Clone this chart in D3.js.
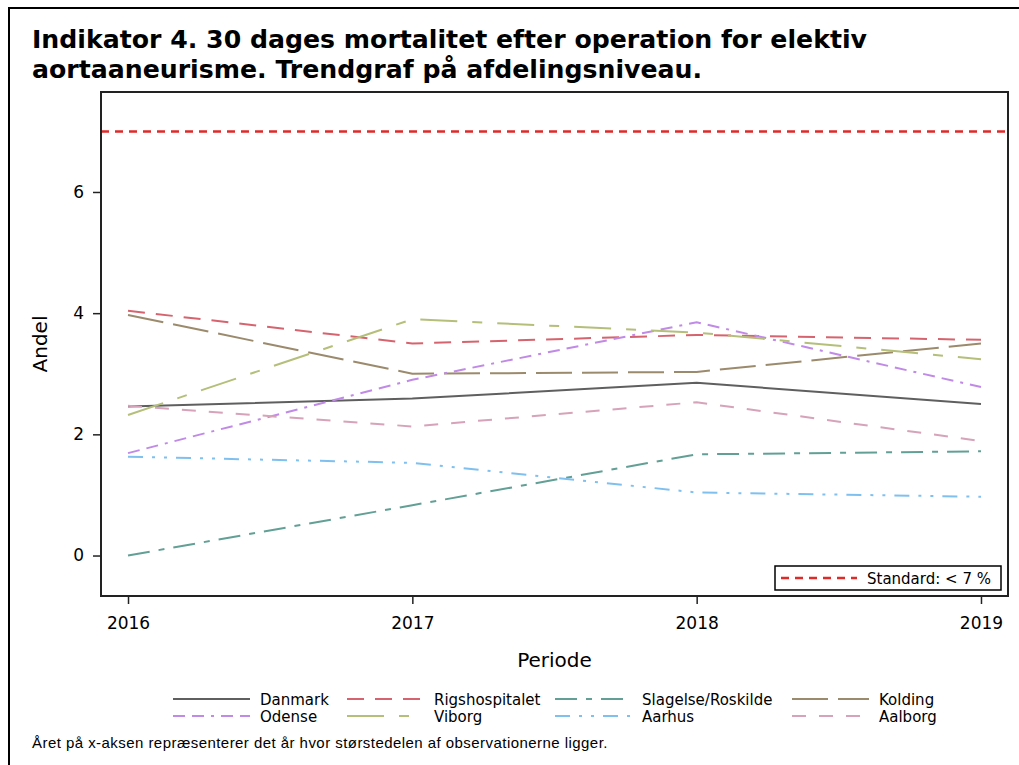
<!DOCTYPE html>
<html>
<head>
<meta charset="utf-8">
<script src="https://cdn.jsdelivr.net/npm/d3@7"></script>
<style>
  body { margin: 0; background: #fff; }
  svg { display: block; }
</style>
</head>
<body>
<div id="chart"></div>
<script>
// data
var years = [2016, 2017, 2018, 2019];
var seriesNames = ["Danmark", "Rigshospitalet", "Slagelse/Roskilde", "Kolding",
                   "Odense", "Viborg", "Aarhus", "Aalborg"];
var danmark        = [2.46, 2.59, 2.85, 2.50];
var rigshospitalet = [4.04, 3.50, 3.64, 3.56];
var slagelse       = [0.00, 0.83, 1.67, 1.72];
var kolding        = [3.97, 3.00, 3.03, 3.50];
var odense         = [1.69, 2.90, 3.85, 2.78];
var viborg         = [2.32, 3.90, 3.68, 3.24];
var aarhus         = [1.63, 1.53, 1.04, 0.97];
var aalborg        = [2.47, 2.13, 2.53, 1.89];
var standardValue = 7;
var yTicks = [0, 2, 4, 6];

var allValues = [danmark, rigshospitalet, slagelse, kolding, odense, viborg, aarhus, aalborg];

var colors = ["#5f5f5f", "#d6646e", "#62a096", "#9c8a6c", "#c08ae6", "#b5bf7a", "#80c0ee", "#d6a3b8"];
var dashes = ["none", "17 11", "22 9 6 9", "36 10", "12 7 12 7 3 7", "37 15 10 15", "15 9 3 9 3 9", "14 13"];

var W = 1019, H = 765;
var margin = { left: 101, top: 92, right: 11, bottom: 169 };
var width = W - margin.left - margin.right;
var height = H - margin.top - margin.bottom;
var fontFamily = "'DejaVu Sans', sans-serif";

var svg = d3.select("#chart").append("svg")
  .attr("width", W)
  .attr("height", H);

// outer border (only top/left visible in the reference)
svg.append("rect")
  .attr("x", 9).attr("y", 8)
  .attr("width", W + 20).attr("height", H + 20)
  .attr("fill", "none").attr("stroke", "#000").attr("stroke-width", 2);

// title
var title = svg.append("text")
  .attr("font-family", fontFamily)
  .attr("font-weight", "bold")
  .attr("font-size", "25.2px")
  .attr("fill", "#000");
title.append("tspan").attr("x", 32).attr("y", 48)
  .text("Indikator 4. 30 dages mortalitet efter operation for elektiv");
title.append("tspan").attr("x", 32).attr("y", 78)
  .text("aortaaneurisme. Trendgraf på afdelingsniveau.");

var g = svg.append("g")
  .attr("transform", "translate(" + margin.left + "," + margin.top + ")");

var xPad = 0.095;
var x = d3.scaleLinear()
  .domain([years[0] - xPad, years[years.length - 1] + xPad])
  .range([0, width]);

var y = d3.scaleLinear()
  .domain([-0.668, 7.65])
  .range([height, 0]);

// axes
var xAxis = g.append("g")
  .attr("transform", "translate(0," + height + ")")
  .call(d3.axisBottom(x).tickValues(years).tickFormat(d3.format("d")).tickSize(8).tickPadding(13));
var yAxis = g.append("g")
  .call(d3.axisLeft(y).tickValues(yTicks).tickSize(8).tickPadding(9));

[xAxis, yAxis].forEach(function (a) {
  a.select(".domain").remove();
  a.selectAll(".tick line").attr("stroke", "#222").attr("stroke-width", 1.5);
  a.selectAll(".tick text")
    .attr("font-family", fontFamily)
    .attr("font-size", "17px")
    .attr("fill", "#000");
});

// standard line
g.append("line")
  .attr("x1", 0).attr("x2", width)
  .attr("y1", y(standardValue)).attr("y2", y(standardValue))
  .attr("stroke", "#e02a2a")
  .attr("stroke-width", 2.5)
  .attr("stroke-dasharray", "8 6");

// series lines
var line = d3.line()
  .x(function (d, i) { return x(years[i]); })
  .y(function (d) { return y(d); });

allValues.forEach(function (vals, i) {
  g.append("path")
    .datum(vals)
    .attr("d", line)
    .attr("fill", "none")
    .attr("stroke", colors[i])
    .attr("stroke-width", 2)
    .attr("stroke-dasharray", dashes[i]);
});

// plot frame
g.append("rect")
  .attr("x", 0).attr("y", 0)
  .attr("width", width).attr("height", height)
  .attr("fill", "none")
  .attr("stroke", "#222")
  .attr("stroke-width", 2);

// inset legend for standard
var ins = g.append("g")
  .attr("transform", "translate(" + (width - 233) + "," + (height - 30) + ")");
ins.append("rect")
  .attr("width", 226).attr("height", 24)
  .attr("fill", "#fff").attr("stroke", "#000").attr("stroke-width", 1.5);
ins.append("line")
  .attr("x1", 6).attr("x2", 82).attr("y1", 12).attr("y2", 12)
  .attr("stroke", "#e02a2a").attr("stroke-width", 2.5).attr("stroke-dasharray", "8 6");
ins.append("text")
  .attr("x", 92).attr("y", 17.5)
  .attr("font-family", fontFamily).attr("font-size", "15px")
  .text("Standard: < " + standardValue + " %");

// axis labels
svg.append("text")
  .attr("x", margin.left + width / 2).attr("y", 667)
  .attr("text-anchor", "middle")
  .attr("font-family", fontFamily).attr("font-size", "20px")
  .text("Periode");
svg.append("text")
  .attr("transform", "translate(47," + (margin.top + height / 2) + ") rotate(-90)")
  .attr("text-anchor", "middle")
  .attr("font-family", fontFamily).attr("font-size", "20px")
  .text("Andel");

// legend
var legendCols = [173, 347, 555, 792];
var legendRows = [699, 716];
var legendLine = 77;
seriesNames.forEach(function (name, i) {
  var col = i % 4, row = Math.floor(i / 4);
  var lg = svg.append("g")
    .attr("transform", "translate(" + legendCols[col] + "," + legendRows[row] + ")");
  lg.append("line")
    .attr("x1", 0).attr("x2", legendLine).attr("y1", 0).attr("y2", 0)
    .attr("stroke", colors[i]).attr("stroke-width", 2)
    .attr("stroke-dasharray", dashes[i]);
  lg.append("text")
    .attr("x", legendLine + 10).attr("y", 5.5)
    .attr("font-family", fontFamily).attr("font-size", "15px")
    .text(name);
});

// footnote
svg.append("text")
  .attr("x", 32).attr("y", 748)
  .attr("font-family", "'Liberation Sans', Arial, sans-serif")
  .attr("font-size", "15px")
  .attr("letter-spacing", "0.45px")
  .text("Året på x-aksen repræsenterer det år hvor størstedelen af observationerne ligger.");
</script>
</body>
</html>
